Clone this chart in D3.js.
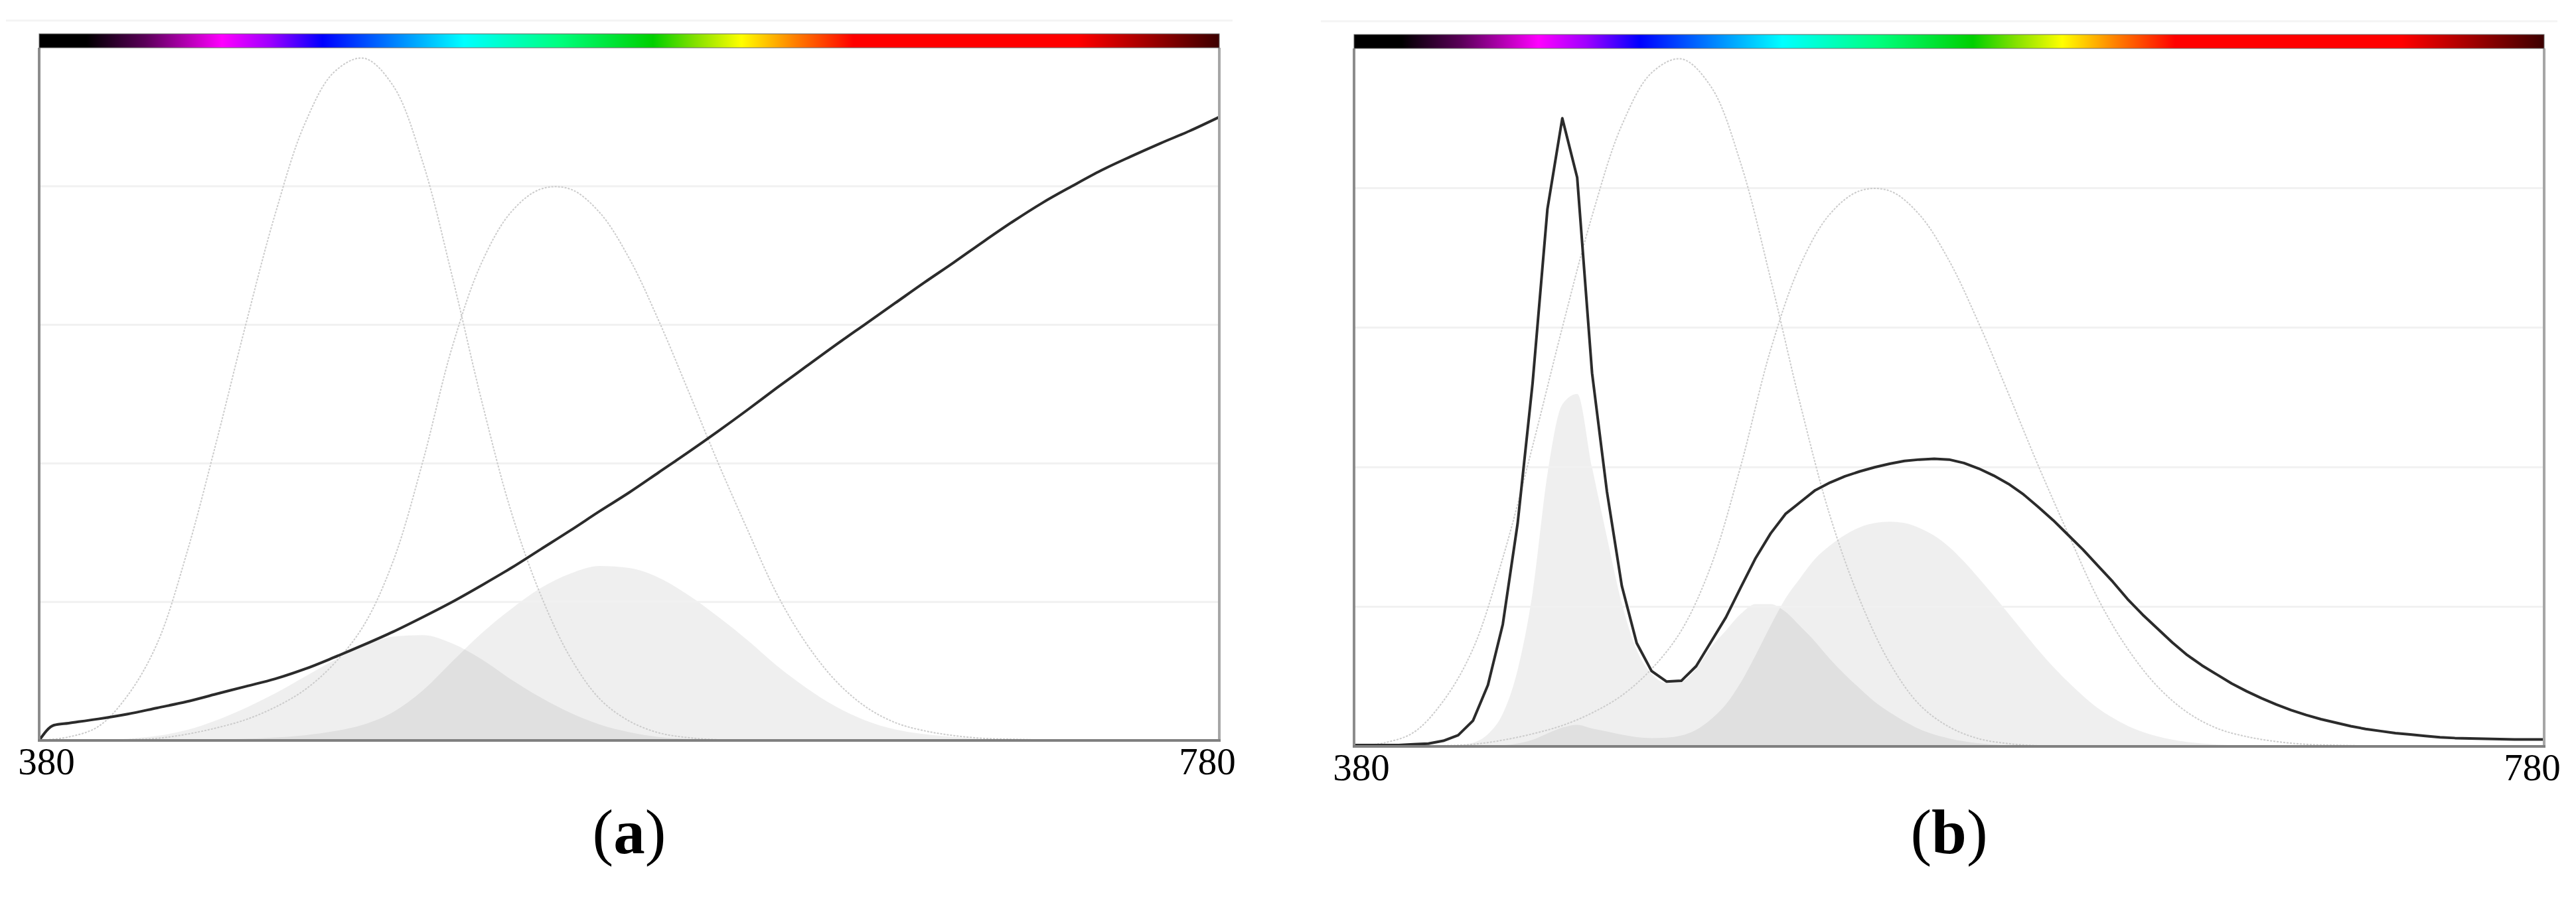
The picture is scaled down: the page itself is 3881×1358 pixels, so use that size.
<!DOCTYPE html>
<html>
<head>
<meta charset="utf-8">
<script src="https://cdn.jsdelivr.net/npm/d3@7"></script>
<style>
body { margin: 0; background: #fff; }
svg { display: block; }
</style>
</head>
<body>
<script>

// ---- data ----

// 10 nm grid used by the two sensitivity curves and panel (a) fills
var wl10 = [380,390,400,410,420,430,440,450,460,470,480,490,500,510,520,530,540,550,560,570,
            580,590,600,610,620,630,640,650,660,670,680,690,700,710,720,730,740,750,760,770,780];

// thin outline curves, same in both panels
var sensBlue = [0,0.005,0.02,0.065,0.14,0.27,0.43,0.60,0.76,0.89,0.965,0.985,0.945,0.835,0.67,0.49,0.33,0.21,0.12,0.06,
                0.028,0.011,0.004,0.001,0,0,0,0,0,0,0,0,0,0,0,0,0,0,0,0,0];
var sensGreen = [0,0.0001,0.0003,0.001,0.003,0.009,0.018,0.030,0.048,0.073,0.111,0.166,0.259,0.402,0.568,0.690,0.763,0.796,0.796,0.762,
                 0.696,0.606,0.505,0.402,0.305,0.212,0.140,0.086,0.049,0.026,0.014,0.007,0.003,0.0017,0.0008,0.0004,0.0002,0.0001,0,0,0];

// panel (a): spectrum line
var wlA = [380,385,390,400,410,420,430,440,450,460,470,480,490,500,510,520,530,540,550,560,570,
           580,590,600,610,620,630,640,650,660,670,680,690,700,710,720,730,740,750,760,770,780];
var specA = [0,0.022,0.025,0.031,0.038,0.047,0.056,0.067,0.078,0.089,0.103,0.120,0.138,0.157,0.178,0.200,0.224,0.249,0.276,0.303,0.331,
             0.358,0.387,0.416,0.446,0.477,0.509,0.540,0.571,0.601,0.631,0.661,0.690,0.720,0.749,0.776,0.800,0.823,0.843,0.862,0.880,0.900];
// panel (a): shaded responses
var fillA1 = [0,0.0001,0.0006,0.0025,0.0066,0.015,0.029,0.047,0.068,0.092,0.116,0.137,0.150,0.152,0.140,0.117,0.088,0.062,0.040,0.023,
              0.012,0.005,0.002,0.0005,0,0,0,0,0,0,0,0,0,0,0,0,0,0,0,0,0];
var fillA2 = [0,0,0,0,0.0001,0.0005,0.0012,0.0023,0.0043,0.0075,0.0133,0.023,0.041,0.072,0.114,0.155,0.190,0.220,0.241,0.252,
              0.249,0.235,0.210,0.179,0.145,0.108,0.076,0.049,0.029,0.016,0.009,0.005,0.002,0.001,0,0,0,0,0,0,0];

// panel (b): 5 nm grid
var wl5 = [380,385,390,395,400,405,410,415,420,425,430,435,440,445,450,455,460,465,470,475,
           480,485,490,495,500,505,510,515,520,525,530,535,540,545,550,555,560,565,570,575,
           580,585,590,595,600,605,610,615,620,625,630,635,640,645,650,655,660,665,670,675,
           680,685,690,695,700,705,710,715,720,725,730,735,740,745,750,755,760,765,770,775,780];
var specB = [0.002,0.002,0.002,0.002,0.003,0.004,0.008,0.016,0.037,0.088,0.175,0.32,0.52,0.77,0.90,0.815,0.535,0.365,0.23,0.148,
             0.108,0.093,0.094,0.115,0.15,0.185,0.228,0.27,0.305,0.333,0.350,0.367,0.378,0.387,0.394,0.400,0.405,0.409,0.411,0.412,
             0.411,0.406,0.398,0.388,0.376,0.361,0.343,0.324,0.303,0.282,0.259,0.236,0.211,0.189,0.169,0.149,0.131,0.116,0.103,0.090,
             0.079,0.069,0.060,0.052,0.045,0.039,0.034,0.029,0.025,0.022,0.019,0.017,0.015,0.013,0.012,0.0115,0.011,0.0105,0.010,0.010,0.010];
var fillB1 = [0,0,0,0,0.0001,0.0002,0.0005,0.0016,0.0052,0.0176,0.047,0.11,0.22,0.39,0.49,0.505,0.40,0.30,0.205,0.138,
              0.104,0.091,0.093,0.112,0.142,0.166,0.190,0.204,0.204,0.193,0.172,0.150,0.125,0.103,0.083,0.064,0.049,0.036,0.025,0.017,
              0.0115,0.0073,0.0044,0.0027,0.0015,0.0008,0.0003,0.0001,0,0,0,0,0,0,0,0,0,0,0,0,
              0,0,0,0,0,0,0,0,0,0,0,0,0,0,0,0,0,0,0,0,0];
var fillB2 = [0,0,0,0,0,0,0,0,0.0001,0.0005,0.0016,0.0042,0.0094,0.0185,0.027,0.031,0.0257,0.0215,0.0168,0.0133,
              0.012,0.0126,0.0156,0.0237,0.0389,0.0603,0.0917,0.131,0.173,0.212,0.2415,0.269,0.288,0.303,0.314,0.320,0.322,0.320,0.313,0.302,
              0.286,0.265,0.241,0.216,0.190,0.164,0.138,0.114,0.0924,0.0725,0.0549,0.041,0.0295,0.021,0.0145,0.0098,0.0064,0.0042,0.0027,0.0017,
              0.0011,0.0007,0.0004,0.0002,0.0001,0,0,0,0,0,0,0,0,0,0,0,0,0,0,0,0];

var tickLabels = [380, 780];
var gridLevels = [0.2, 0.4, 0.6, 0.8];

// colour bar along the top
var barOffsets = [0, 0.04, 0.09, 0.155, 0.195, 0.24, 0.30, 0.36, 0.44, 0.52, 0.555, 0.595, 0.64, 0.69, 0.88, 0.94, 1];
var barColors = ["#000000","#000000","#5a0058","#ff00ff","#a000ff","#0000ff","#0080ff","#00ffff","#00ff80","#00d000",
                 "#80e000","#ffff00","#ff8000","#ff0000","#ff0000","#a00000","#3c0000"];

// ---- drawing ----

var svg = d3.select("body").append("svg")
  .attr("width", 3881)
  .attr("height", 1358);

var grad = svg.append("defs").append("linearGradient")
  .attr("id", "spectrum")
  .attr("x1", "0%").attr("x2", "100%").attr("y1", "0%").attr("y2", "0%");
grad.selectAll("stop")
  .data(barOffsets)
  .enter().append("stop")
  .attr("offset", function(d) { return d; })
  .attr("stop-color", function(d, i) { return barColors[i]; });

function toPts(xs, ys) {
  return xs.map(function(x, i) { return [x, ys[i]]; });
}

function drawPanel(p) {
  var x = d3.scaleLinear().domain([380, 780]).range([p.left, p.right]);
  var y = d3.scaleLinear().domain([0, 1]).range([p.bottom, p.top]);

  var g = svg.append("g");

  // faint rule above the bar
  g.append("line")
    .attr("x1", p.left - 50).attr("x2", p.right + 20)
    .attr("y1", p.barTop - 20).attr("y2", p.barTop - 20)
    .style("stroke", "#f4f4f4").style("stroke-width", 3);

  var area = d3.area()
    .x(function(d) { return x(d[0]); })
    .y0(y(0))
    .y1(function(d) { return y(d[1]); })
    .curve(d3.curveMonotoneX);

  // shaded responses, overlapping -> darker
  p.fills.forEach(function(f) {
    g.append("path")
      .datum(toPts(p.fillX, f))
      .attr("d", area)
      .style("fill", "#000")
      .style("fill-opacity", 0.063);
  });

  // grid
  g.selectAll(".grid")
    .data(gridLevels)
    .enter().append("line")
    .attr("x1", p.left).attr("x2", p.right)
    .attr("y1", function(d) { return y(d); })
    .attr("y2", function(d) { return y(d); })
    .style("stroke", "#f1f1f1")
    .style("stroke-width", 3);

  var smooth = d3.line()
    .x(function(d) { return x(d[0]); })
    .y(function(d) { return y(d[1]); })
    .curve(d3.curveCatmullRom);

  [sensBlue, sensGreen].forEach(function(s) {
    g.append("path")
      .datum(toPts(wl10, s))
      .attr("d", smooth)
      .style("fill", "none")
      .style("stroke", "#cccccc")
      .style("stroke-width", 2)
      .style("stroke-dasharray", "3,2");
  });

  // (a) is a smooth lamp curve, (b) keeps the sampled corners
  var specLine = d3.line()
    .x(function(d) { return x(d[0]); })
    .y(function(d) { return y(d[1]); })
    .curve(p.smoothSpec ? d3.curveMonotoneX : d3.curveLinear);

  g.append("path")
    .datum(toPts(p.specX, p.spec))
    .attr("d", specLine)
    .style("fill", "none")
    .style("stroke", "#2b2b2b")
    .style("stroke-width", 4)
    .style("stroke-linejoin", "round");

  // frame
  g.append("line")
    .attr("x1", x(380)).attr("x2", x(380))
    .attr("y1", p.top).attr("y2", p.bottom)
    .style("stroke", "#8c8c8c").style("stroke-width", 4);
  g.append("line")
    .attr("x1", x(780)).attr("x2", x(780))
    .attr("y1", p.top).attr("y2", p.bottom)
    .style("stroke", "#a6a6a6").style("stroke-width", 4);
  g.append("line")
    .attr("x1", x(380) - 2).attr("x2", x(780) + 2)
    .attr("y1", p.bottom).attr("y2", p.bottom)
    .style("stroke", "#808080").style("stroke-width", 4);

  // colour bar
  g.append("rect")
    .attr("x", p.left).attr("y", p.barTop)
    .attr("width", p.right - p.left).attr("height", p.top - p.barTop)
    .style("fill", "url(#spectrum)")
    .style("stroke", "#6a6a6a").style("stroke-width", 1);

  // end labels
  g.selectAll(".tick")
    .data(tickLabels)
    .enter().append("text")
    .attr("x", function(d, i) { return x(d) + (i == 0 ? 11 : -18); })
    .attr("y", p.bottom + 51)
    .attr("text-anchor", "middle")
    .style("font-family", "'Liberation Serif', 'Times New Roman', serif")
    .style("font-size", "57px")
    .style("fill", "#000")
    .text(function(d) { return d; });

  // panel letter
  var t = g.append("text")
    .attr("x", (p.left + p.right) / 2)
    .attr("y", 1286)
    .attr("text-anchor", "middle")
    .style("font-family", "'Liberation Serif', 'Times New Roman', serif")
    .style("font-size", "95px")
    .style("fill", "#000");
  t.append("tspan").text("(");
  t.append("tspan").style("font-weight", "bold").text(p.letter);
  t.append("tspan").text(")");
}

drawPanel({
  left: 59, right: 1837, top: 72, bottom: 1116, barTop: 51, letter: "a", smoothSpec: true,
  specX: wlA, spec: specA, fillX: wl10, fills: [fillA1, fillA2]
});

drawPanel({
  left: 2040, right: 3833, top: 73, bottom: 1125, barTop: 52, letter: "b", smoothSpec: false,
  specX: wl5, spec: specB, fillX: wl5, fills: [fillB1, fillB2]
});

</script>
</body>
</html>
